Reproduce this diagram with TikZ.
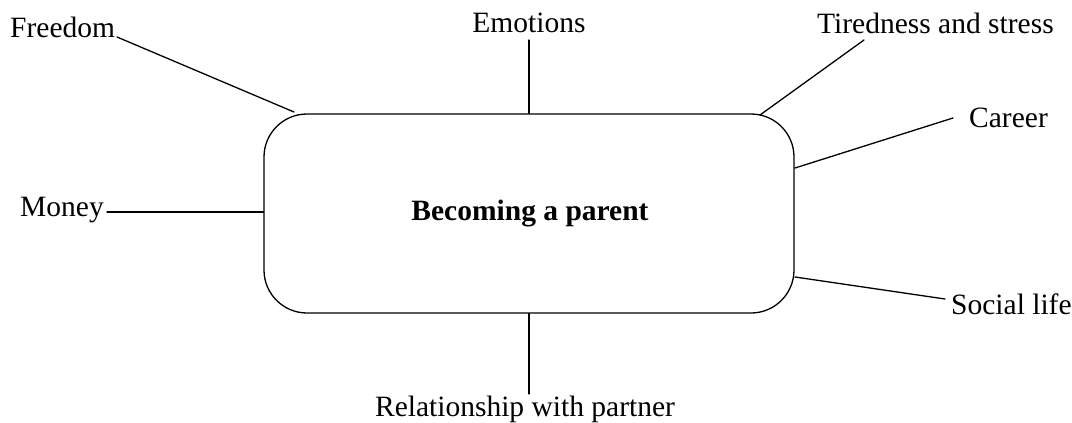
\documentclass[tikz,border=0pt]{standalone}
\usepackage{fontspec}
\setmainfont{Liberation Serif}
\begin{document}
\begin{tikzpicture}[x=1pt,y=-1pt,
  lab/.style={inner sep=0pt, font=\fontsize{29.5}{35}\selectfont},
  conn/.style={line width=1.3pt, line cap=round},
  centre/.style={draw, line width=1.3pt, rounded corners=43pt, inner sep=0pt}]
\useasboundingbox (0,0) rectangle (1072,423);
\node[centre, minimum width=530pt, minimum height=199pt] (box) at (529,213.5) {};
\node[lab, font=\fontsize{29.5}{35}\selectfont\bfseries, anchor=base] (title) at (530,220) {Becoming a parent};
\node[lab, anchor=base west] (freedom) at (10,37) {Freedom};
\node[lab, anchor=base] (emotions) at (529,32) {Emotions};
\node[lab, anchor=base west] (tired) at (817,33) {Tiredness and stress};
\node[lab, anchor=base west] (career) at (969,127) {Career};
\node[lab, anchor=base west] (money) at (20,216) {Money};
\node[lab, anchor=base west] (social) at (951,314) {Social life};
\node[lab, anchor=base] (rel) at (525,416) {Relationship with partner};
% connector ends
\coordinate (fA) at (117,37);  \coordinate (fB) at (294,112);
\coordinate (eA) at (529,40);
\coordinate (tA) at (864,40);  \coordinate (tB) at (760,115);
\coordinate (cA) at (953,118); \coordinate (cB) at (795,168);
\coordinate (mA) at (107,212);
\coordinate (sA) at (795,277); \coordinate (sB) at (945,299);
\coordinate (rA) at (529,394);
\draw[conn] (fA) -- (fB);
\draw[conn] (eA) -- (eA |- box.north);
\draw[conn] (tA) -- (tB);
\draw[conn] (cA) -- (cB);
\draw[conn] (mA) -- (mA -| box.west);
\draw[conn] (sA) -- (sB);
\draw[conn] (rA |- box.south) -- (rA);
\end{tikzpicture}
\end{document}
